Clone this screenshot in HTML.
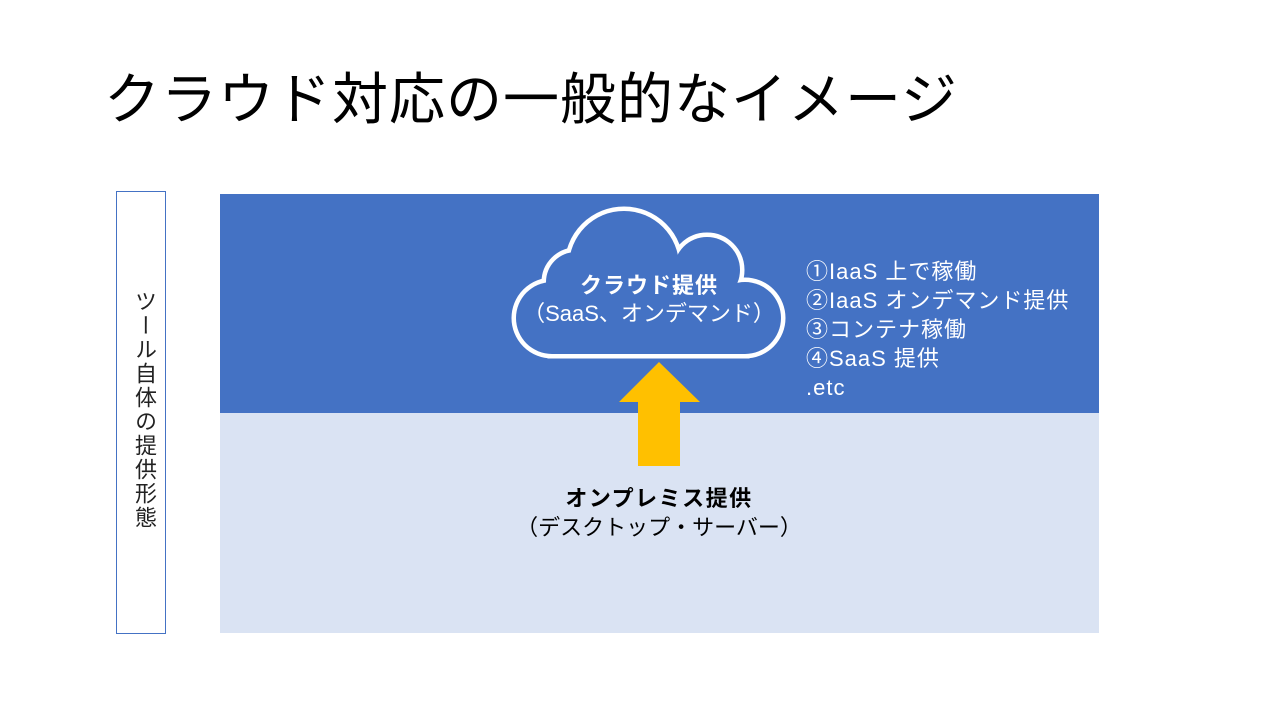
<!DOCTYPE html>
<html><head><meta charset="utf-8"><style>
body{margin:0;width:1280px;height:720px;background:#fff;position:relative;overflow:hidden;font-family:"Liberation Sans","Noto Sans CJK JP",sans-serif}
.a{position:absolute;white-space:nowrap}
</style></head><body>
<div class="a" style="left:104px;top:64px;font-size:56px;line-height:72px;letter-spacing:1px;color:#000">クラウド対応の一般的なイメージ</div>
<div class="a" style="left:116px;top:191px;width:48px;height:441px;border:1px solid #4472C4"></div>
<div class="a" style="left:129px;top:290px;width:26px;font-size:22px;line-height:22px;letter-spacing:2px;writing-mode:vertical-rl;color:#222">ツール自体の提供形態</div>
<div class="a" style="left:220px;top:194px;width:879px;height:219px;background:#4472C4"></div>
<div class="a" style="left:220px;top:413px;width:879px;height:220px;background:#DAE3F3"></div>
<svg class="a" style="left:0;top:0" width="1280" height="720">
<defs><g id="c">
<circle cx="552" cy="318" r="36"/>
<circle cx="576" cy="282" r="30"/>
<circle cx="624" cy="266" r="55"/>
<circle cx="707" cy="270" r="33"/>
<circle cx="745" cy="318" r="36"/>
<rect x="552" y="290" width="193" height="64"/>
</g></defs>
<use href="#c" fill="#fff" stroke="#fff" stroke-width="9"/>
<use href="#c" fill="#4472C4"/>
<polygon points="659,362 700,402 680,402 680,466 638,466 638,402 619,402" fill="#FFC000"/>
</svg>
<div class="a" style="left:499px;top:272px;width:300px;text-align:center;color:#fff;font-weight:bold;font-size:22px;line-height:28px;letter-spacing:1px">クラウド提供</div>
<div class="a" style="left:499px;top:300px;width:300px;text-align:center;color:#fff;font-size:22px;line-height:28px">（SaaS、オンデマンド）</div>
<div class="a" style="left:806px;top:257px;color:#fff;font-size:22px;line-height:29px;letter-spacing:1px">①IaaS 上で稼働<br>②IaaS オンデマンド提供<br>③コンテナ稼働<br>④SaaS 提供<br>.etc</div>
<div class="a" style="left:459px;top:484px;width:400px;text-align:center;color:#000;font-weight:bold;font-size:22px;line-height:29px;letter-spacing:1.5px">オンプレミス提供</div>
<div class="a" style="left:459px;top:513px;width:400px;text-align:center;color:#000;font-size:22px;line-height:29px">（デスクトップ・サーバー）</div>
</body></html>
